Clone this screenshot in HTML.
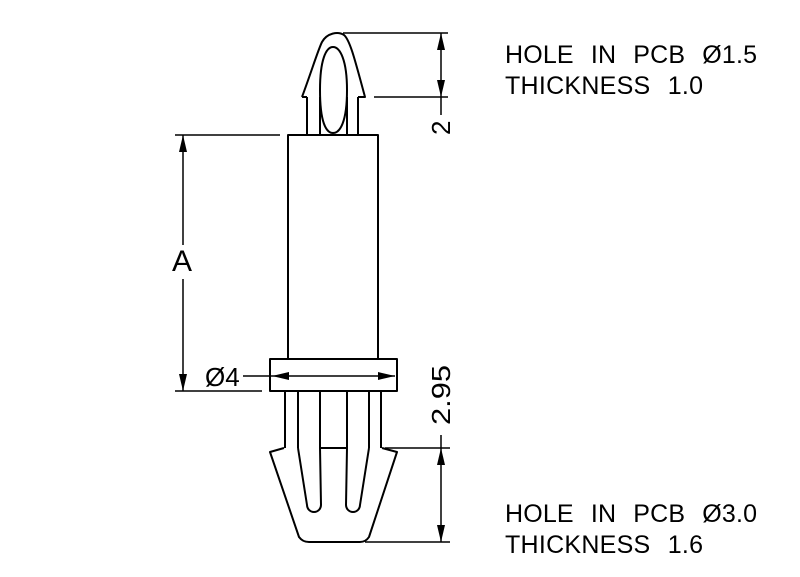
<!DOCTYPE html>
<html><head><meta charset="utf-8"><style>html,body{margin:0;padding:0;background:#fff}svg{display:block}</style></head>
<body>
<svg width="800" height="577" viewBox="0 0 800 577" xmlns="http://www.w3.org/2000/svg">
<g fill="none" stroke="#000" stroke-width="2" stroke-linejoin="round">
<path d="M302,97 C312,70 318,50 322,42 C327,33 338,31 344,35 C350,40 355,60 365,97 L358,97 M302,97 L307,97"/>
<path d="M333,47 C326,47 320,60 320,90 C320,122 326,133 333,133 C340,133 347,122 347,90 C347,60 340,47 333,47 Z"/>
<line x1="307" y1="97" x2="307" y2="135"/>
<line x1="320" y1="97" x2="320" y2="135"/>
<line x1="347" y1="97" x2="347" y2="135"/>
<line x1="358" y1="97" x2="358" y2="135"/>
<rect x="288" y="135" width="90" height="224"/>
<rect x="270" y="359" width="127" height="32"/>
<line x1="285" y1="391" x2="285" y2="448"/>
<line x1="298" y1="391" x2="298" y2="448"/>
<line x1="320" y1="391" x2="320" y2="448"/>
<line x1="347" y1="391" x2="347" y2="448"/>
<line x1="369" y1="391" x2="369" y2="448"/>
<line x1="381" y1="391" x2="381" y2="448"/>
<path d="M284,448 L270,452 L299,537 C302,541 305,542 309,542 L360,542 C364,542 367,540 369,537 L397,452 L382,448"/>
<path d="M298,448 L307,505 A7,7 0 1 0 321,505 L320,448 L347,448 L346,505 A7,7 0 1 0 360,505 L369,448"/>
</g>
<g stroke="#000" stroke-width="1.5" fill="none">
<line x1="343" y1="33" x2="448" y2="33"/>
<line x1="374" y1="97" x2="448" y2="97"/>
<line x1="441" y1="33" x2="441" y2="115"/>
<line x1="175" y1="135" x2="280" y2="135"/>
<line x1="175" y1="391" x2="262" y2="391"/>
<line x1="183" y1="135" x2="183" y2="245"/>
<line x1="183" y1="279" x2="183" y2="391"/>
<line x1="243" y1="376" x2="395" y2="376"/>
<line x1="385" y1="448" x2="450" y2="448"/>
<line x1="365" y1="542" x2="450" y2="542"/>
<line x1="441" y1="435" x2="441" y2="542"/>
</g>
<g fill="#000">
<polygon points="441,33 437,50 445,50"/>
<polygon points="441,97 437,80 445,80"/>
<polygon points="183,135 179,152 187,152"/>
<polygon points="183,391 179,374 187,374"/>
<polygon points="272,376 289,372 289,380"/>
<polygon points="395,376 378,372 378,380"/>
<polygon points="441,448 437,465 445,465"/>
<polygon points="441,542 437,525 445,525"/>
</g>
<g font-family="Liberation Sans, sans-serif" fill="#000">
<text x="505" y="63" font-size="25" word-spacing="10" textLength="252" lengthAdjust="spacing">HOLE IN PCB Ø1.5</text>
<text x="505" y="94" font-size="25" word-spacing="10" textLength="198" lengthAdjust="spacing">THICKNESS 1.0</text>
<text x="505" y="522" font-size="25" word-spacing="10" textLength="252" lengthAdjust="spacing">HOLE IN PCB Ø3.0</text>
<text x="505" y="553" font-size="25" word-spacing="10" textLength="198" lengthAdjust="spacing">THICKNESS 1.6</text>
<text x="172" y="271" font-size="30">A</text>
<text x="205" y="386" font-size="26">Ø4</text>
<text transform="translate(450,135) rotate(-90)" font-size="26">2</text>
<text transform="translate(450,425) rotate(-90)" font-size="26" textLength="60" lengthAdjust="spacingAndGlyphs">2.95</text>
</g>
</svg>
</body></html>
